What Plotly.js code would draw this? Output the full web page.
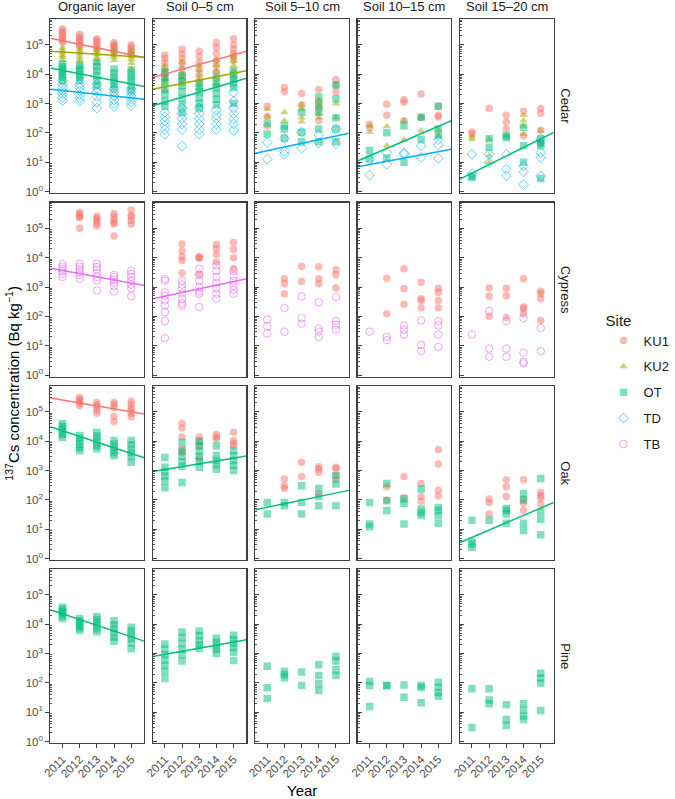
<!DOCTYPE html>
<html>
<head>
<meta charset="utf-8">
<script src="https://cdn.plot.ly/plotly-3.0.1.min.js"></script>
<style>body{margin:0;background:#fff}#plot{width:675px;height:799px}</style>
</head>
<body>
<div id="plot"></div>
<script>
var years = [2011, 2012, 2013, 2014, 2015];
var forests = ["Cedar", "Cypress", "Oak", "Pine"];
var layers = ["Organic layer", "Soil 0–5 cm", "Soil 5–10 cm", "Soil 10–15 cm", "Soil 15–20 cm"];
var sites = ["KU1", "KU2", "OT", "TD", "TB"];
var siteColors = ["#F8766D", "#A3A500", "#00BF7D", "#00B0F6", "#E76BF3"];
var siteSymbols = ["circle", "triangle-up", "square", "diamond-open", "circle-open"];

// [forest, layer, 2011, 2012, 2013, 2014, 2015] in Bq/kg
var ku1 = [
  [0, 0, [3.5e5,3e5,2.6e5,2.2e5,1.9e5,1.6e5,1.4e5,1.2e5], [2.3e5,1.9e5,1.6e5,1.4e5,1.2e5,1e5,9e4], [1.6e5,1.4e5,1.2e5,1e5,8.5e4,7e4], [1.2e5,1e5,9e4,8e4,7e4,5.5e4], [1e5,8.5e4,7e4,6e4,5e4]],
  [0, 1, [4.5e4,3.5e4,2.5e4,1.6e4,1e4,7e3], [7e4,5e4,3.5e4,2.5e4,1.6e4,1e4,6e3], [6e4,4e4,2.5e4,1.5e4,1e4,6e3], [1.2e5,8e4,5e4,3e4,2e4,1.2e4], [1.6e5,1e5,7e4,5e4,4e4,3e4]],
  [0, 2, [800,360,170], [3500,2500], [2200,900], [3000,1100,650,260], [6500,4300,2500]],
  [0, 3, [195,150], [950,400], [1350,1100,260], [2100,340], [800,400,350]],
  [0, 4, [107,91], [680], [400,235,135], [540,80], [680,470,123,47]],
  [1, 0, [], [3.5e5,3e5,2.6e5,2.3e5,1e5], [2.6e5,2.2e5,1.8e5,1.5e5,1.2e5], [3.2e5,2.6e5,2e5,1.6e5,1.4e5,5.5e4], [4.2e5,2.8e5,2.5e5,1.8e5,1.4e5]],
  [1, 1, [], [2.9e4,1.7e4,1.1e4,8e3,3e3], [1.1e4,1e4,9.5e3,2.8e3], [2.8e4,2e4,1.3e4,7e3], [3.3e4,1.9e4,1e4,4.2e3]],
  [1, 2, [], [1900,1300,590], [5100,1550], [4900,1900,1300], [3900,2600,930]],
  [1, 3, [], [2000,123], [4200,870,260], [1450,400,350,195], [910,660,350,195]],
  [1, 4, [], [930,480,100], [900,500,91], [1900,210,180,123], [710,590,400,72]],
  [2, 0, [], [3.1e5,2.7e5,2.3e5,2e5,1.6e5], [2.1e5,1.7e5,1.4e5,1.1e5,9e4], [2.1e5,1.8e5,1.4e5,6.9e4,4.6e4], [2.3e5,1.8e5,1.4e5,1.1e5,9e4,6.8e4]],
  [2, 1, [], [4.1e4,2.8e4,1.4e4,5.4e3,4.2e3], [1.4e4,1e4,6.9e3,2.5e3], [1.7e4,1.4e4,1.2e4], [2e4,1.05e4,8.5e3,7e3]],
  [2, 2, [], [510,300,250], [1900,620], [1350,1120,870,160], [1290,1120,660,480]],
  [2, 3, [], [280,98], [630,120], [360,129,89], [5100,1660,214,135]],
  [2, 4, [], [107,81,33], [480,280,129], [480,107,76,43], [178,138,115,72]]
];
var ku2 = [
  [0, 0, [8e4,6.5e4,5.5e4,4.5e4,3.8e4,3e4], [7e4,6e4,5e4,4e4,3.2e4,2.6e4], [7e4,5.8e4,4.8e4,4e4,3.2e4,2.4e4], [6.5e4,5.5e4,4.5e4,3.8e4,3e4], [6e4,5e4,4e4,3.2e4,2.4e4,1.5e4]],
  [0, 1, [2e4,1.4e4,1e4,7e3,5e3,3e3], [2.5e4,1.6e4,1e4,7e3,4.5e3], [2e4,1.4e4,9e3,6e3,3.5e3], [3e4,2e4,1.3e4,8e3,5e3], [4e4,2.8e4,2e4,1.3e4,9e3]],
  [0, 2, [650,360], [500,260], [900,650,330,240], [1300,850,440,330], [1000,330]],
  [0, 3, [175,105], [165,36], [260,58], [340,117], [126,80]],
  [0, 4, [74,60], [60,17,10], [80], [400,260,174,91], [117,54]]
];
var ot = [
  [0, 0, [2.2e4,1.8e4,1.5e4,1.2e4,1e4,8e3,6e3], [2e4,1.6e4,1.3e4,1e4,8e3,6e3], [2.5e4,1.8e4,1.3e4,9e3,6e3,4e3], [1.5e4,1.1e4,8e3,6e3,4.5e3,3.1e3], [1.4e4,1e4,7.5e3,5.5e3,4e3,2.7e3]],
  [0, 1, [1.2e4,8e3,5e3,3e3,2e3,1.2e3,800], [9e3,6e3,4e3,2.5e3,1.5e3,900,500], [5e3,3.5e3,2.5e3,1.6e3,1e3,700], [8e3,5e3,3.5e3,2.2e3,1.4e3,900], [1.3e4,9e3,7e3,5e3,3.5e3,1e3]],
  [0, 2, [210,91], [175,135,65], [500,105,50], [1650,850,500,135,50], [4300,1450,330,135,50]],
  [0, 3, [25,13], [100,14], [175,10], [340,59], [800,135,80]],
  [0, 4, [3.4,3], [63,32], [80,69], [155,36,10], [63,44,36,2.8]],
  [2, 0, [3.9e4,3.2e4,2.6e4,2.1e4,1.7e4,1.35e4], [1.55e4,1.25e4,1e4,8e3,6e3,4.8e3], [2e4,1.5e4,1.15e4,9e3,7e3,5.5e3], [1.05e4,8e3,6.3e3,5e3,4e3,3.2e3], [1.05e4,7.5e3,5.5e3,4e3,3e3,1.9e3]],
  [2, 1, [2.8e3,1.3e3,900,650,450,260], [9e3,4.8e3,3e3,2e3,1.4e3,390], [1e4,7e3,4.5e3,3e3,2e3,1.3e3], [7e3,3.2e3,2.2e3,1.6e3,1.1e3], [4.8e3,3.2e3,2.2e3,1.5e3,1e3]],
  [2, 2, [81,33], [81,63], [300,81,33], [245,129,63], [660,350,63]],
  [2, 3, [81,15,12], [363,93,43], [107,76,15], [234,49,37,29], [55,43,29,16]],
  [2, 4, [20,3.7,3.1,2.4], [20], [51,43,33,16], [166,98,16,9], [537,39,22,6.5]],
  [3, 0, [3.8e4,3.2e4,2.7e4,2.3e4,1.9e4,1.55e4], [1.55e4,1.3e4,1.1e4,9e3,7.5e3,6.2e3], [1.8e4,1.45e4,1.15e4,9e3,7e3,5.5e3], [1.3e4,9.5e3,7e3,5e3,3.6e3,2.6e3], [7.8e3,5.8e3,4.3e3,3.2e3,2.3e3,1.45e3]],
  [3, 1, [2.1e3,1.4e3,900,600,400,250,140], [5.4e3,3.5e3,2.2e3,1.4e3,900,550], [5.8e3,4e3,2.8e3,2e3,1.5e3], [3.3e3,2.4e3,1.8e3,1.4e3,1e3], [4.2e3,3e3,2.2e3,1.6e3,1.1e3,580]],
  [3, 2, [370,68,29], [245,190,148], [234,81], [417,178,93,55], [794,550,282,178]],
  [3, 3, [112,81,15.5], [81,81], [85,32], [81,71,21], [105,71,47,35]],
  [3, 4, [63,3], [63,26,19.5], [18,5.6,3.5], [19.5,11.7,7.4,5.6], [214,145,98,11.5]]
];
var td = [
  [0, 0, [6e3,4.5e3,3.5e3,2.7e3,2.1e3,1.6e3,1.25e3], [4.5e3,3.5e3,2.7e3,2e3,1.5e3,1.2e3], [4.5e3,3.3e3,2.5e3,1.7e3,1.1e3,700], [3.1e3,2.4e3,1.8e3,1.3e3,1e3,800], [3.1e3,2.4e3,1.8e3,1.4e3,1.1e3,850]],
  [0, 1, [500,350,250,180,130,90], [700,450,300,200,130,35], [700,450,300,200,130,90], [600,400,300,200,130], [2.4e3,1.2e3,700,450,300,200,120]],
  [0, 2, [47,12.6], [65,23,18.6], [105,30], [85,45], [135,42]],
  [0, 3, [12.6,3.6], [21,8.5], [21,18.6], [36,14.5], [58,39,13.5]],
  [0, 4, [18.6,4.1], [18.6,9.8], [18.6,5.8,3.4], [7.4,4.7,1.7], [63,21,14.5,3.4]]
];
var tb = [
  [1, 0, [6.2e3,5e3,4.2e3,3.5e3,2.8e3,2.2e3], [6.2e3,5e3,4e3,3.2e3,2.6e3,1.9e3], [6.2e3,4.8e3,4e3,3e3,2.2e3,1.7e3,760], [2.6e3,2.2e3,1.8e3,1.4e3,1.1e3,700], [3.6e3,2.8e3,2.2e3,1.6e3,1.2e3,900,490]],
  [1, 1, [1.9e3,1.65e3,660,510,350,235,140,69,18], [1.65e3,1.2e3,900,600,400,280,235], [4.2e3,2.6e3,1.6e3,1e3,700,590,210], [5.4e3,3.5e3,2.2e3,1.4e3,900,600,400], [3.6e3,2.4e3,1.6e3,1.1e3,800,590]],
  [1, 2, [78,46,26], [195,30], [480,87,56], [302,38,30,20], [457,69,52,35]],
  [1, 3, [30], [20,15.5], [49,35,24], [72,10.5,6.6], [69,49,24,9.1]],
  [1, 4, [24], [151,8,4.2], [69,8,4.2], [87,5.8,2.8,2.5], [40,6.5]]
];

// fitted log-linear trends: log10(value) at 2013 and slope per year
var fitForest = [0, 0, 0, 0, 0, 0, 0, 0, 0, 0, 0, 1, 1, 2, 2, 2, 2, 2, 3, 3];
var fitLayer  = [0, 0, 0, 0, 1, 1, 1, 2, 3, 3, 4, 0, 1, 0, 0, 1, 2, 4, 0, 1];
var fitSite   = [0, 1, 2, 3, 0, 1, 2, 3, 2, 3, 2, 4, 4, 0, 2, 2, 2, 2, 2, 2];
var fitLog10At2013 = [4.90, 4.68, 3.90, 3.32, 4.33, 3.80, 3.39, 1.64, 1.72, 1.14, 1.21, 3.35, 2.94, 5.20, 3.97, 3.23, 1.99, 1.22, 3.96, 3.18];
var fitSlope = [-0.121, -0.0385, -0.116, -0.0624, 0.163, 0.116, 0.172, 0.125, 0.251, 0.110, 0.292, -0.108, 0.125, -0.099, -0.194, 0.097, 0.121, 0.25, -0.196, 0.105];

var W = 675, H = 799;
var colLeft = [52, 157.5, 263, 368.5, 474], panelW = 96.5;
var rowTop = [19, 202.5, 386, 569], panelH = 174;
var xRange = [2010.3, 2015.75];
var yRange = [-0.05, 5.88];

function axId(f, l) { var n = f * 5 + l + 1; return n === 1 ? "" : String(n); }

var traces = [];
[ku1, ku2, ot, td, tb].forEach(function (rows, s) {
  rows.forEach(function (rec, k) {
    var xs = [], ys = [];
    for (var j = 0; j < 5; j++) rec[2 + j].forEach(function (v) { xs.push(years[j]); ys.push(v); });
    var open = siteSymbols[s].indexOf("open") > 0;
    traces.push({
      type: "scatter", mode: "markers", x: xs, y: ys,
      xaxis: "x" + axId(rec[0], rec[1]), yaxis: "y" + axId(rec[0], rec[1]),
      name: sites[s], legendgroup: sites[s], showlegend: k === 0,
      marker: { symbol: siteSymbols[s], color: siteColors[s], size: 7.5,
                opacity: open ? 0.6 : 0.5, line: { width: open ? 1 : 0, color: siteColors[s] } },
      hoverinfo: "x+y+name"
    });
  });
});

fitSite.forEach(function (s, i) {
  var lx = xRange.slice();
  var ly = lx.map(function (x) { return Math.pow(10, fitLog10At2013[i] + fitSlope[i] * (x - 2013)); });
  traces.push({
    type: "scatter", mode: "lines", x: lx, y: ly,
    xaxis: "x" + axId(fitForest[i], fitLayer[i]), yaxis: "y" + axId(fitForest[i], fitLayer[i]),
    line: { color: siteColors[s], width: 1.5 }, showlegend: false, hoverinfo: "skip"
  });
});

var decades = [1, 10, 100, 1e3, 1e4, 1e5];
var minorVals = [];
decades.forEach(function (d) { for (var m = 2; m <= 9; m++) minorVals.push(d * m); });

var layout = {
  width: W, height: H,
  margin: { l: 0, r: 0, t: 0, b: 0 },
  paper_bgcolor: "#fff", plot_bgcolor: "#fff",
  font: { family: "Liberation Sans, Arial, sans-serif", color: "#1a1a1a" },
  showlegend: true,
  legend: {
    x: 622 / W, y: 1 - 306 / H, xanchor: "left", yanchor: "top",
    title: { text: "Site", font: { size: 15 } },
    font: { size: 13 }, tracegroupgap: 6, itemwidth: 30
  },
  annotations: []
};

forests.forEach(function (fname, f) {
  layers.forEach(function (lname, l) {
    var id = axId(f, l);
    var first = l === 0, bottom = f === forests.length - 1;
    layout["xaxis" + id] = {
      domain: [colLeft[l] / W, (colLeft[l] + panelW) / W],
      anchor: "y" + id, range: xRange, showgrid: false, zeroline: false,
      showline: true, mirror: true, linecolor: "#404040", linewidth: 1.2,
      tickmode: "array", tickvals: years, ticktext: years.map(String),
      showticklabels: bottom, ticks: bottom ? "outside" : "", ticklen: 4, tickcolor: "#404040",
      tickangle: -45, tickfont: { size: 11.5, color: "#4d4d4d" }
    };
    layout["yaxis" + id] = {
      domain: [1 - (rowTop[f] + panelH) / H, 1 - rowTop[f] / H],
      anchor: "x" + id, type: "log", range: yRange, showgrid: false, zeroline: false,
      showline: true, mirror: true, linecolor: "#404040", linewidth: 1.2,
      tickmode: "array", tickvals: decades,
      ticktext: decades.map(function (d, i) { return "10<sup>" + i + "</sup>"; }),
      showticklabels: first, ticks: first ? "outside" : "inside", ticklen: 4, tickcolor: "#404040",
      tickfont: { size: 11.5, color: "#4d4d4d" },
      minor: { tickmode: "array", tickvals: minorVals, ticks: "inside", ticklen: 2, tickcolor: "#555", showgrid: false }
    };
  });
});

layers.forEach(function (lname, l) {
  layout.annotations.push({
    text: lname, xref: "paper", yref: "paper", showarrow: false,
    x: (colLeft[l] + panelW / 2) / W, y: 1 - 16 / H, xanchor: "center", yanchor: "bottom",
    font: { size: 13, color: "#1a1a1a" }
  });
});
forests.forEach(function (fname, f) {
  layout.annotations.push({
    text: fname, xref: "paper", yref: "paper", showarrow: false, textangle: 90,
    x: 583 / W, y: 1 - (rowTop[f] + panelH / 2) / H, xanchor: "center", yanchor: "middle",
    font: { size: 13, color: "#1a1a1a" }
  });
});
layout.annotations.push({
  text: "Year", xref: "paper", yref: "paper", showarrow: false,
  x: 311 / W, y: 1 - 790 / H, xanchor: "center", yanchor: "middle", font: { size: 15, color: "#000" }
});
layout.annotations.push({
  text: "<sup>137</sup>Cs concentration (Bq kg<sup>−1</sup>)", xref: "paper", yref: "paper",
  showarrow: false, textangle: -90, x: 12 / W, y: 1 - 383 / H, xanchor: "center", yanchor: "middle",
  font: { size: 15, color: "#000" }
});

Plotly.newPlot("plot", traces, layout, { displayModeBar: false, staticPlot: true });
</script>
</body>
</html>
